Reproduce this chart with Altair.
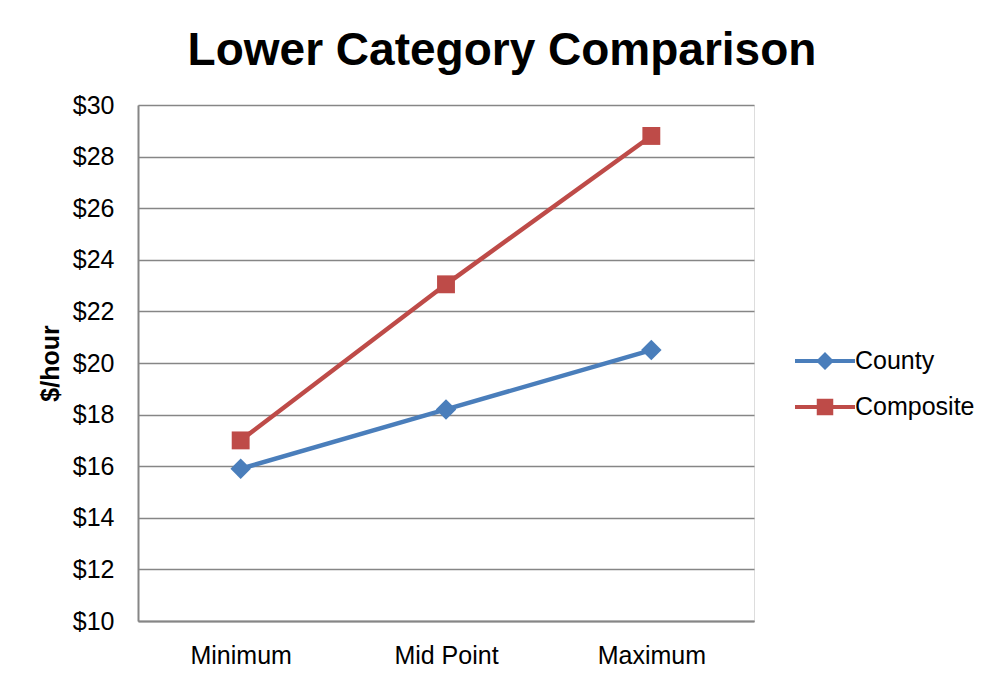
import altair as alt
import pandas as pd

categories = ["Minimum", "Mid Point", "Maximum"]
series_names = ["County", "Composite"]
county = [15.9, 18.2, 20.5]
composite = [17.0, 23.05, 28.8]
colors = ["#4A7EBB", "#BE4B48"]

rows = []
for name, vals in zip(series_names, [county, composite]):
    for c, v in zip(categories, vals):
        rows.append({"Category": c, "Series": name, "Value": v})
df = pd.DataFrame(rows)

FONT = "Liberation Sans"
GRID = "#868686"

x_enc = alt.X("Category:N", sort=categories,
              scale=alt.Scale(type="point", padding=0.5),
              axis=alt.Axis(title=None, labelAngle=0, labelFontSize=25, labelFont=FONT,
                            labelColor="#000000", labelPadding=22, ticks=False,
                            domainColor=GRID, domainWidth=2, grid=False))
y_enc = alt.Y("Value:Q", scale=alt.Scale(domain=[10, 30], nice=False, zero=False),
              axis=alt.Axis(title="$/hour", values=list(range(10, 31, 2)), format="$.0f",
                            labelFontSize=25, labelFont=FONT, labelColor="#000000",
                            labelPadding=24, ticks=False, domainColor=GRID, domainWidth=2,
                            gridColor=GRID, gridWidth=1.5,
                            titleFont=FONT, titleFontSize=25, titleFontWeight="bold",
                            titleColor="#000000", titleAngle=270, titleX=-88, titleY=258,
                            titleAlign="center", titleBaseline="middle"))
color_scale = alt.Scale(domain=series_names, range=colors)

path_county = "M-2,-0.13H2V0.13H-2Z M0,-0.6L0.6,0L0,0.6L-0.6,0Z"
path_comp = "M-2,-0.13H2V0.13H-2Z M-0.55,-0.55H0.55V0.55H-0.55Z"

leg = alt.Legend(title=None, orient="none", legendX=672, legendY=241,
                 labelFont=FONT, labelFontSize=25, labelColor="#000000",
                 symbolSize=900, labelOffset=15, rowPadding=18,
                 padding=0, symbolStrokeWidth=0, symbolOpacity=1)

legend_layer = alt.Chart(df).mark_point(
    filled=True, opacity=1, strokeWidth=0, size=0).encode(
    x=x_enc, y=y_enc,
    color=alt.Color("Series:N", scale=color_scale, legend=leg),
    shape=alt.Shape("Series:N", scale=alt.Scale(domain=series_names, range=[path_county, path_comp]),
                    legend=leg),
)

lines = alt.Chart(df).mark_line(strokeWidth=4.5).encode(
    x=x_enc, y=y_enc,
    color=alt.Color("Series:N", scale=color_scale, legend=None),
    detail="Series:N",
)

pts_county = alt.Chart(df).transform_filter("datum.Series === 'County'").mark_point(
    filled=True, opacity=1, strokeWidth=0, shape="diamond", size=420).encode(
    x=x_enc, y=y_enc,
    color=alt.Color("Series:N", scale=color_scale, legend=None),
)
pts_comp = alt.Chart(df).transform_filter("datum.Series === 'Composite'").mark_point(
    filled=True, opacity=1, strokeWidth=0, shape="square", size=320).encode(
    x=x_enc, y=y_enc,
    color=alt.Color("Series:N", scale=color_scale, legend=None),
)

chart = alt.layer(legend_layer, lines, pts_county, pts_comp).properties(
    width=616, height=516,
    title=alt.TitleParams("Lower Category Comparison", font=FONT, fontSize=46, fontWeight="bold",
                          color="#000000", anchor="middle", dx=56, offset=18),
    autosize=alt.AutoSizeParams(type="none"),
    padding={"left": 130, "top": 97, "right": 243, "bottom": 58},
).configure_view(stroke=None).configure(background="#ffffff")

chart.save("out.html", embed_options={"renderer": "svg", "actions": False})
